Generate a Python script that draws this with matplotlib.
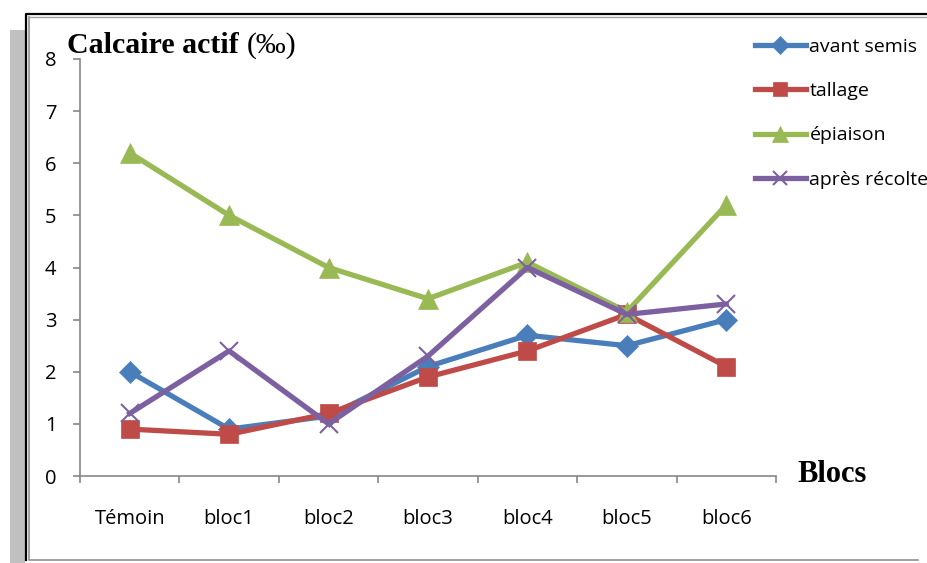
import matplotlib
matplotlib.use("Agg")
from matplotlib import pyplot as plt
from matplotlib.patches import Rectangle
from matplotlib.lines import Line2D

# données
categories = ["Témoin", "bloc1", "bloc2", "bloc3", "bloc4", "bloc5", "bloc6"]
avant_semis = [2.0, 0.9, 1.15, 2.1, 2.7, 2.5, 3.0]
tallage = [0.9, 0.8, 1.2, 1.9, 2.4, 3.1, 2.1]
epiaison = [6.2, 5.0, 4.0, 3.4, 4.1, 3.15, 5.2]
apres_recolte = [1.2, 2.4, 1.0, 2.3, 4.0, 3.1, 3.3]
series_names = ["avant semis", "tallage", "épiaison", "après récolte"]
y_ticks = [0, 1, 2, 3, 4, 5, 6, 7, 8]

W, H = 927, 563
fig = plt.figure(figsize=(W / 100, H / 100), dpi=100)


def fx(px):
    return px / W


def fy(py):
    return 1 - py / H


# cadre + ombre
fig.patches.append(Rectangle((fx(10), 0), fx(15), fy(30), transform=fig.transFigure,
                             facecolor="#c0c0c0", edgecolor="none", zorder=0))
fig.patches.append(Rectangle((fx(25.5), fy(560)), fx(1000), fy(13.5) - fy(560),
                             transform=fig.transFigure, facecolor="white",
                             edgecolor="none", zorder=1))
fig.lines.append(Line2D([fx(25.5), fx(25.5), fx(930)], [fy(560), fy(13.5), fy(13.5)],
                        transform=fig.transFigure, color="black", linewidth=1.6, zorder=2))
fig.lines.append(Line2D([fx(28.5), fx(28.5), fx(918)], [fy(16.5), fy(560), fy(560)],
                        transform=fig.transFigure, color="#909090", linewidth=1.2, zorder=2))
fig.lines.append(Line2D([fx(28.5), fx(930)], [fy(16.5), fy(16.5)],
                        transform=fig.transFigure, color="#a0a0a0", linewidth=1.0, zorder=2))

ax = fig.add_axes([fx(80), fy(476), fx(776) - fx(80), fy(59) - fy(476)])
ax.set_zorder(3)
ax.patch.set_visible(False)

x = list(range(len(categories)))
styles = [
    (avant_semis, "#4a7ebb", "D", 11),
    (tallage, "#be4b48", "s", 13),
    (epiaison, "#98b954", "^", 15),
    (apres_recolte, "#7d60a0", "x", 13),
]
for (vals, col, mk, ms), name in zip(styles, series_names):
    ax.plot(x, vals, color=col, linewidth=3.8, marker=mk, markersize=ms,
            markeredgewidth=1.5 if mk == "x" else 0.5, markeredgecolor=col,
            label=name, clip_on=False)

ax.set_xlim(-0.5, len(categories) - 0.5)
ax.set_ylim(0, 8)
ax.set_yticks(y_ticks)
ax.set_xticks([i - 0.5 for i in range(len(categories) + 1)])
ax.set_xticklabels([])
ax.set_xticks(x, minor=True)
ax.set_xticklabels(categories, minor=True)

for s in ["top", "right"]:
    ax.spines[s].set_visible(False)
for s in ["left", "bottom"]:
    ax.spines[s].set_color("#868686")
    ax.spines[s].set_linewidth(1.2)

tick_font = ["Open Sans", "DejaVu Sans"]
ax.tick_params(axis="y", which="major", length=5, color="#868686", width=1.2,
               labelsize=14.5, pad=12)
ax.tick_params(axis="x", which="major", length=5, color="#868686", width=1.2)
ax.tick_params(axis="x", which="minor", length=0, labelsize=14.5, pad=24)
for lab in ax.get_yticklabels() + ax.get_xticklabels(minor=True):
    lab.set_family(tick_font)

# titres
serif = ["Liberation Serif", "DejaVu Serif"]
t1 = fig.text(fx(67), fy(53), "Calcaire actif ", fontsize=21.5, fontweight="bold",
              family=serif, ha="left", va="baseline", zorder=5)
fig.canvas.draw()
bb = t1.get_window_extent(renderer=fig.canvas.get_renderer())
fig.text(bb.x1 / W, fy(53), "(‰)", fontsize=21.5, family=serif,
         ha="left", va="baseline", zorder=5)
fig.text(fx(797), fy(482), "Blocs", fontsize=22, fontweight="bold",
         family=serif, ha="left", va="baseline", zorder=5)

leg = fig.legend(loc="upper left", bbox_to_anchor=(fx(755), fy(38)),
                 frameon=False, prop={"family": tick_font, "size": 14},
                 handlelength=2.6, labelspacing=1.35, handletextpad=0.2,
                 borderaxespad=0, borderpad=0, markerscale=0.8)
leg.set_zorder(5)

fig.savefig("out.png", dpi=100)
